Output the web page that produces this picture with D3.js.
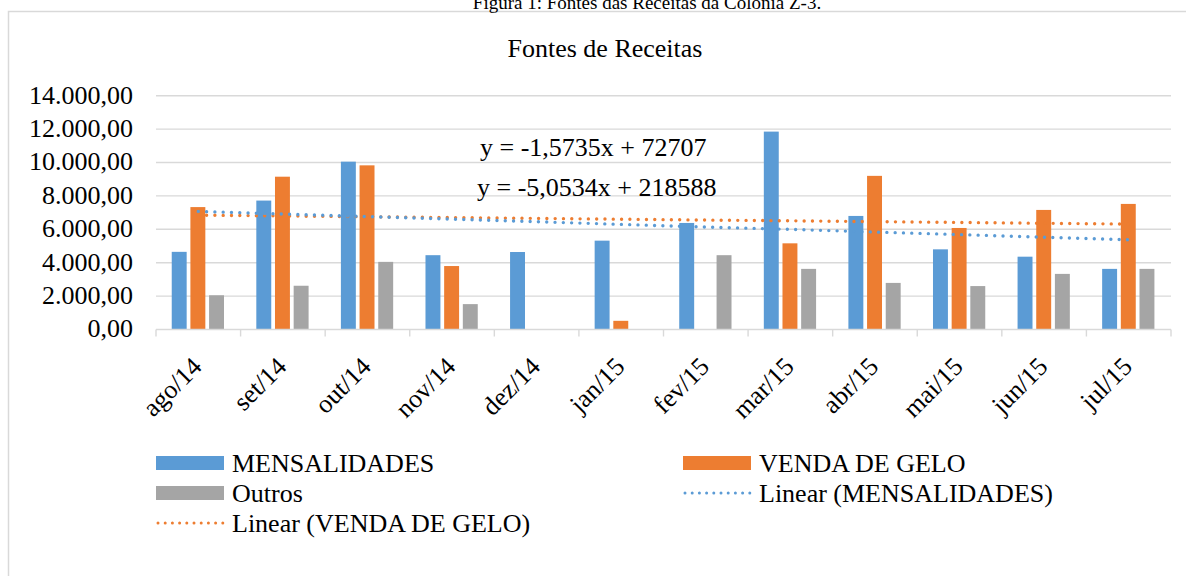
<!DOCTYPE html>
<html>
<head>
<meta charset="utf-8">
<script src="https://cdn.jsdelivr.net/npm/d3@7"></script>
<style>
  body { margin: 0; background: #fff; }
  svg text { font-family: "Liberation Serif", "Times New Roman", serif; fill: #000; }
</style>
</head>
<body>
<div class="chart"></div>
<script>
// dados
var months = ["ago/14", "set/14", "out/14", "nov/14", "dez/14", "jan/15",
              "fev/15", "mar/15", "abr/15", "mai/15", "jun/15", "jul/15"];
var mensalidades = [4650, 7720, 10050, 4450, 4640, 5320, 6380, 11850, 6800, 4800, 4360, 3630];
var vendaGelo    = [7330, 9150, 9830, 3800, null, 520, null, 5160, 9200, 6080, 7160, 7520];
var outros       = [2050, 2620, 4050, 1520, 25, null, 4450, 3630, 2790, 2600, 3330, 3630];
var seriesNames  = ["MENSALIDADES", "VENDA DE GELO", "Outros"];
var yTicks       = [0, 2000, 4000, 6000, 8000, 10000, 12000, 14000];
var equations    = ["y = -1,5735x + 72707", "y = -5,0534x + 218588"];

// 基本設定
var w = 1186;
var h = 576;
var plotL = 156, plotR = 1171, plotT = 95.7, plotB = 329.5;
var colors = {"MENSALIDADES": "#5b9bd5", "VENDA DE GELO": "#ed7d31", "Outros": "#a5a5a5"};
var values = {"MENSALIDADES": mensalidades, "VENDA DE GELO": vendaGelo, "Outros": outros};
var fs = 26;

var svg = d3.select(".chart")
  .append("svg")
  .attr("width", w)
  .attr("height", h);

// moldura
svg.append("rect")
  .attr("x", 8.5).attr("y", 11.5)
  .attr("width", 1210).attr("height", 600)
  .attr("fill", "#fff")
  .attr("stroke", "#d9d9d9")
  .attr("stroke-width", 1.5);

svg.append("text")
  .attr("x", 647).attr("y", 9)
  .attr("text-anchor", "middle")
  .attr("font-size", "19px")
  .text("Figura 1: Fontes das Receitas da Colônia Z-3.");

svg.append("text")
  .attr("x", 605).attr("y", 57)
  .attr("text-anchor", "middle")
  .attr("font-size", fs + "px")
  .text("Fontes de Receitas");

// escalas
var x = d3.scaleBand().domain(months).range([plotL, plotR]).padding(0);
var bw = x.bandwidth();
var xs = d3.scaleBand().domain(seriesNames)
  .range([bw * 0.186, bw * 0.804])
  .paddingInner(0.2);
var y = d3.scaleLinear().domain([0, 14000]).range([plotB, plotT]);

var br = d3.formatLocale({decimal: ",", thousands: ".", grouping: [3], currency: ["R$", ""]});
var fmt = br.format(",.2f");

// grade
svg.append("g")
  .selectAll("line")
  .data(yTicks.filter(function(d) { return d > 0; }))
  .enter()
  .append("line")
  .attr("x1", plotL).attr("x2", plotR)
  .attr("y1", function(d) { return y(d); })
  .attr("y2", function(d) { return y(d); })
  .attr("stroke", "#d9d9d9")
  .attr("stroke-width", 1.4);

svg.append("g")
  .selectAll("text")
  .data(yTicks)
  .enter()
  .append("text")
  .attr("x", 133)
  .attr("y", function(d) { return y(d) + 7.8; })
  .attr("text-anchor", "end")
  .attr("font-size", fs + "px")
  .text(function(d) { return fmt(d); });

// barras
seriesNames.forEach(function(s) {
  svg.append("g")
    .selectAll("rect")
    .data(months.map(function(m, i) { return {m: m, v: values[s][i]}; })
      .filter(function(d) { return d.v != null; }))
    .enter()
    .append("rect")
    .attr("x", function(d) { return x(d.m) + xs(s); })
    .attr("width", xs.bandwidth())
    .attr("y", function(d) { return y(d.v); })
    .attr("height", function(d) { return y(0) - y(d.v); })
    .attr("fill", colors[s]);
});

// eixo x
var xAxis = svg.append("g");
xAxis.append("line")
  .attr("x1", plotL).attr("x2", plotR)
  .attr("y1", plotB).attr("y2", plotB)
  .attr("stroke", "#d9d9d9")
  .attr("stroke-width", 1.4);
xAxis.selectAll(".tk")
  .data(months.concat(["end"]))
  .enter()
  .append("line")
  .attr("x1", function(d, i) { return plotL + i * bw; })
  .attr("x2", function(d, i) { return plotL + i * bw; })
  .attr("y1", plotB).attr("y2", plotB + 7)
  .attr("stroke", "#d9d9d9")
  .attr("stroke-width", 1.4);
xAxis.selectAll("text")
  .data(months)
  .enter()
  .append("text")
  .attr("transform", function(d) {
    return "translate(" + (x(d) + bw / 2 + 5) + "," + 368 + ") rotate(-45)";
  })
  .attr("text-anchor", "end")
  .attr("font-size", fs + "px")
  .text(function(d) { return d; });

// linhas de tendência (mínimos quadrados, x = data serial do Excel)
function serial(i) {
  return (Date.UTC(2014, 7 + i, 1) - Date.UTC(1899, 11, 30)) / 864e5;
}
function trend(vals) {
  var pts = [];
  vals.forEach(function(v, i) { if (v != null) pts.push([serial(i), v]); });
  var mx = d3.mean(pts, function(p) { return p[0]; });
  var my = d3.mean(pts, function(p) { return p[1]; });
  var sxy = d3.sum(pts, function(p) { return (p[0] - mx) * (p[1] - my); });
  var sxx = d3.sum(pts, function(p) { return (p[0] - mx) * (p[0] - mx); });
  var b = sxy / sxx, a = my - b * mx;
  return months.map(function(m, i) { return {m: m, v: a + b * serial(i)}; });
}
var line = d3.line()
  .x(function(d) { return x(d.m) + bw / 2; })
  .y(function(d) { return y(d.v); });

[["VENDA DE GELO", vendaGelo], ["MENSALIDADES", mensalidades]].forEach(function(t) {
  svg.append("path")
    .attr("d", line(trend(t[1])))
    .attr("fill", "none")
    .attr("stroke", colors[t[0]])
    .attr("stroke-width", 3.4)
    .attr("stroke-linecap", "round")
    .attr("stroke-dasharray", "0 8.3");
});

// equações
svg.append("text")
  .attr("x", 480).attr("y", 156)
  .attr("font-size", fs + "px")
  .text(equations[0]);
svg.append("text")
  .attr("x", 477).attr("y", 196)
  .attr("font-size", fs + "px")
  .text(equations[1]);

// legenda
var legend = [
  {name: "MENSALIDADES", type: "bar", c: colors["MENSALIDADES"], x: 156, row: 0},
  {name: "VENDA DE GELO", type: "bar", c: colors["VENDA DE GELO"], x: 683, row: 0},
  {name: "Outros", type: "bar", c: colors["Outros"], x: 156, row: 1},
  {name: "Linear (MENSALIDADES)", type: "line", c: colors["MENSALIDADES"], x: 683, row: 1},
  {name: "Linear (VENDA DE GELO)", type: "line", c: colors["VENDA DE GELO"], x: 156, row: 2}
];
var lg = svg.append("g")
  .selectAll("g")
  .data(legend)
  .enter()
  .append("g")
  .attr("transform", function(d) { return "translate(" + d.x + "," + (463 + d.row * 30) + ")"; });
lg.filter(function(d) { return d.type === "bar"; })
  .append("rect")
  .attr("x", 0).attr("y", -7)
  .attr("width", 68).attr("height", 14)
  .attr("fill", function(d) { return d.c; });
lg.filter(function(d) { return d.type === "line"; })
  .append("line")
  .attr("x1", 2).attr("x2", 67)
  .attr("y1", 0).attr("y2", 0)
  .attr("stroke", function(d) { return d.c; })
  .attr("stroke-width", 3)
  .attr("stroke-linecap", "round")
  .attr("stroke-dasharray", "0 7.2");
lg.append("text")
  .attr("x", 76).attr("y", 8.7)
  .attr("font-size", fs + "px")
  .text(function(d) { return d.name; });
</script>
</body>
</html>
